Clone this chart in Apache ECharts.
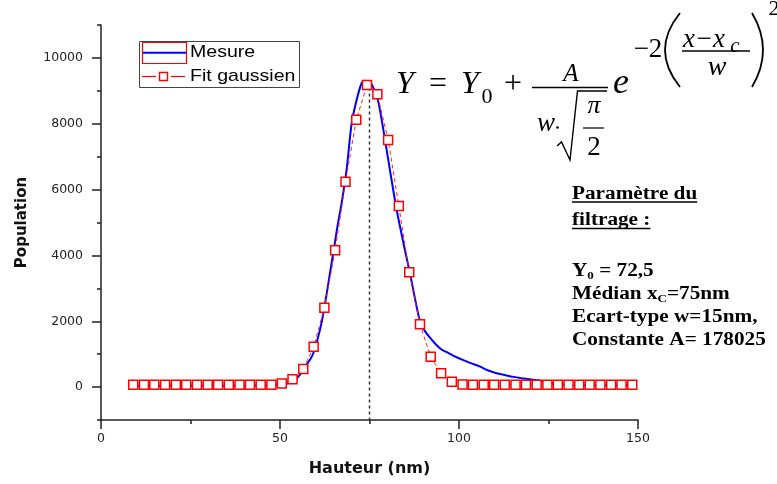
<!DOCTYPE html>
<html><head><meta charset="utf-8">
<script src="https://cdn.jsdelivr.net/npm/echarts@6/dist/echarts.min.js"></script>
<style>html,body{margin:0;padding:0;background:#fff}#c{width:777px;height:484px}</style>
</head><body><div id="c"></div>
<script>
// ---- data ----
const mesureX = [9,15,20,25,30,35,40,45,48,50,52,54,55.6,57,58.5,59.5,60.5,61.6,62.6,63.5,65,66,67.2,68.6,70,71.4,72.8,73.7,74.6,75.6,76.6,77.5,78.9,80.7,82.6,84.9,86.3,87.5,89.1,90.5,91.9,93.5,95,96.6,98.5,101.2,103.5,105.9,108,110.5,113,115.2,117.5,119.8,122.6,124.5,126.5,129,132,140,148.4];
const mesureY = [40,40,40,40,40,40,40,45,55,70,110,200,380,620,850,1080,1450,1950,2550,3150,4160,4850,5580,6600,8000,8720,9230,9310,9290,9200,8950,8650,7800,6600,5380,4160,3460,2800,2000,1700,1500,1300,1150,1060,950,820,720,620,510,420,360,310,270,235,190,150,100,75,60,60,60];
const fitX = [9.0,12.0,14.9,17.9,20.9,23.8,26.8,29.8,32.7,35.7,38.7,41.6,44.6,47.6,50.5,53.5,56.5,59.4,62.4,65.4,68.3,71.3,74.3,77.2,80.2,83.2,86.1,89.1,92.1,95.0,98.0,101.0,103.9,106.9,109.8,112.8,115.8,118.7,121.7,124.7,127.6,130.6,133.6,136.5,139.5,142.5,145.4,148.4];
const fitY = [72,72,72,72,72,72,72,72,72,72,72,72,72,72,110,240,550,1225,2410,4160,6240,8120,9180,8900,7510,5500,3490,1910,920,420,160,80,72,72,72,72,72,72,72,72,72,72,72,72,72,72,72,72];
const xcLineX = [75, 75];
const xcLineY = [9100, -1000];
const yMajorTicks = [0, 2000, 4000, 6000, 8000, 10000];
const seriesNames = ['Mesure', 'Fit gaussien'];
const xName = 'Hauteur (nm)';
const yName = 'Population';
const paramTitle = ['Paramètre du', 'filtrage :'];
const paramY0 = '72,5', paramXc = '75nm', paramW = '15nm', paramA = '178025';

const zip = (a, b) => a.map((v, i) => [v, b[i]]);

// ---- text helpers ----
const mctx = document.createElement('canvas').getContext('2d');
function tw(s, fs, fam, bold, ital) {
  mctx.font = (ital ? 'italic ' : '') + (bold ? 'bold ' : '') + fs + 'px "' + fam + '"';
  return mctx.measureText(s).width;
}
function txt(t, x, base, fs, o) {
  o = o || {};
  return {type: 'text', x: x, y: base - 0.34 * fs, z: 100,
    style: {text: t, fontSize: fs, fontFamily: o.fam || 'Liberation Serif',
      fontWeight: o.bold ? 'bold' : 'normal', fontStyle: o.ital ? 'italic' : 'normal',
      fill: o.color || '#000', textAlign: o.align || 'center', align: o.align || 'center',
      textVerticalAlign: 'middle', verticalAlign: 'middle'}};
}
function ln(x1, y1, x2, y2, w, o) {
  o = o || {};
  return {type: 'line', z: 100, shape: {x1, y1, x2, y2},
    style: {stroke: o.color || '#000', lineWidth: w, lineDash: o.dash || null}};
}
// horizontal run of segments inside a stretched group
function run(parts, x0, base, scale, fam, bold, underline) {
  let cx = 0; const ch = [];
  parts.forEach(p => {
    const fs = p.fs;
    ch.push(txt(p.t, cx, base + (p.dy || 0), fs, {fam, bold, align: 'left', ital: p.ital}));
    cx += tw(p.t, fs, fam, bold, p.ital);
  });
  if (underline) ch.push(ln(0, base + 2, cx, base + 2, 1.3));
  return {type: 'group', x: x0, y: 0, scaleX: scale, children: ch};
}

const SER = 'Liberation Serif';
const graphics = [];
// legend
graphics.push({type: 'rect', z: 90, shape: {x: 139.5, y: 41.5, width: 160, height: 46},
  style: {fill: '#fff', stroke: '#444', lineWidth: 1}});
graphics.push({type: 'rect', z: 100, shape: {x: 142.5, y: 42.5, width: 44, height: 21},
  style: {fill: null, stroke: '#ff0000', lineWidth: 1.2}});
graphics.push(ln(143, 52.7, 186, 52.7, 2, {color: '#0000ff'}));
graphics.push(ln(142, 76.5, 156, 76.5, 1.2, {color: '#ff0000'}));
graphics.push(ln(171, 76.5, 185, 76.5, 1.2, {color: '#ff0000'}));
graphics.push({type: 'rect', z: 100, shape: {x: 159.5, y: 72.5, width: 8, height: 8},
  style: {fill: '#fff', stroke: '#ff0000', lineWidth: 1.4}});
graphics.push(run([{t: seriesNames[0], fs: 17}], 190, 58.5, 1.15, 'Liberation Sans', false));
graphics.push(run([{t: seriesNames[1], fs: 17}], 190, 82.5, 1.15, 'Liberation Sans', false));

// formula
const I = {ital: true};
graphics.push(txt('Y', 405, 95, 32, I));
graphics.push(txt('=', 438, 95, 32));
graphics.push(txt('Y', 470, 95, 32, I));
graphics.push(txt('0', 487, 105, 22));
graphics.push(txt('+', 513, 95, 32));
graphics.push(txt('A', 571, 83, 25, I));
graphics.push(ln(532, 87.5, 608, 87.5, 1.3));
graphics.push(txt('w', 546, 133, 27, I));
graphics.push({type: 'circle', z: 100, shape: {cx: 557.5, cy: 127.5, r: 1.3}, style: {fill: '#000'}});
graphics.push({type: 'polyline', z: 100, shape: {points: [[557, 146], [561.5, 142], [570, 160], [577.5, 91], [607, 91]]},
  style: {stroke: '#000', fill: null, lineWidth: 1.4}});
graphics.push(txt('π', 594, 115, 26, I));
graphics.push(ln(583, 128, 604, 128, 1.2));
graphics.push(txt('2', 594, 157, 27));
graphics.push(txt('e', 621, 96, 36, I));
graphics.push(txt('−2', 648, 59, 27));
graphics.push({type: 'bezierCurve', z: 100, shape: {x1: 680, y1: 13, x2: 680, y2: 87, cpx1: 650, cpy1: 50},
  style: {stroke: '#000', fill: null, lineWidth: 1.8}});
graphics.push({type: 'bezierCurve', z: 100, shape: {x1: 752, y1: 13, x2: 752, y2: 87, cpx1: 774, cpy1: 50},
  style: {stroke: '#000', fill: null, lineWidth: 1.8}});
graphics.push(txt('x', 689, 49, 27, I));
graphics.push(txt('−', 704, 49, 27));
graphics.push(txt('x', 719, 49, 27, I));
graphics.push(txt('c', 735, 54, 21, I));
graphics.push(ln(682, 51, 750, 51, 1.3));
graphics.push(txt('w', 717, 77, 28, I));
graphics.push(txt('2', 774, 17, 22));

// parameter block
const PS = 1.18, PF = 18;
graphics.push(run([{t: paramTitle[0], fs: PF}], 572, 200, PS, SER, true, true));
graphics.push(run([{t: paramTitle[1], fs: PF}], 572, 226.5, PS, SER, true, true));
graphics.push(run([{t: 'Y', fs: PF}, {t: '0', fs: 11, dy: 3}, {t: ' = ' + paramY0, fs: PF}], 572, 277, PS, SER, true));
graphics.push(run([{t: 'Médian x', fs: PF}, {t: 'C', fs: 11, dy: 3}, {t: '=' + paramXc, fs: PF}], 572, 300, PS, SER, true));
graphics.push(run([{t: 'Ecart-type w=' + paramW + ',', fs: PF}], 572, 323, PS, SER, true));
graphics.push(run([{t: 'Constante A= ' + paramA, fs: PF}], 572, 346.5, PS, SER, true));

const axisCol = '#222';
const chart = echarts.init(document.getElementById('c'), null, {renderer: 'canvas'});
chart.setOption({
  animation: false,
  backgroundColor: '#fff',
  grid: {left: 101, right: 139, top: 25, bottom: 64, containLabel: false},
  xAxis: {
    type: 'value', min: 0, max: 150, interval: 50,
    axisLine: {onZero: false, lineStyle: {color: axisCol, width: 1.5}},
    axisTick: {length: 9, lineStyle: {color: axisCol, width: 1.5}},
    minorTick: {show: true, splitNumber: 2, length: 4, lineStyle: {color: axisCol, width: 1.5}},
    axisLabel: {margin: 12, fontFamily: 'DejaVu Sans', fontSize: 12.5, color: '#222'},
    splitLine: {show: false}, minorSplitLine: {show: false},
    name: xName, nameLocation: 'middle', nameGap: 41,
    nameTextStyle: {fontFamily: 'DejaVu Sans', fontWeight: 'bold', fontSize: 16, color: '#111'}
  },
  yAxis: [{
    type: 'value', min: -1000, max: 11000, interval: 1000,
    axisLine: {show: true, onZero: false, lineStyle: {color: axisCol, width: 1.5}},
    axisTick: {show: true, length: 4, lineStyle: {color: axisCol, width: 1.5}},
    axisLabel: {margin: 18, fontFamily: 'DejaVu Sans', fontSize: 12.5, color: '#222',
      formatter: v => (yMajorTicks.indexOf(v) >= 0 ? String(v) : '')},
    splitLine: {show: false},
    name: yName, nameLocation: 'middle', nameGap: 71, nameRotate: 90,
    nameTextStyle: {fontFamily: 'DejaVu Sans', fontWeight: 'bold', fontSize: 15, color: '#111'}
  }, {
    type: 'value', min: -1000, max: 11000, interval: 1000, position: 'left',
    axisLine: {show: false, onZero: false},
    axisTick: {show: true, length: 9, customValues: yMajorTicks, lineStyle: {color: axisCol, width: 1.5}},
    axisLabel: {show: false}, splitLine: {show: false}
  }],
  series: [{
    name: 'xc', type: 'line', data: zip(xcLineX, xcLineY), symbol: 'none', silent: true, z: 1,
    lineStyle: {color: '#333', width: 1.5, type: [3, 3]}
  }, {
    name: seriesNames[0], type: 'line', data: zip(mesureX, mesureY), symbol: 'none', showSymbol: false,
    smooth: 0.25, z: 2, lineStyle: {color: '#0000ff', width: 2}
  }, {
    name: seriesNames[1], type: 'line', data: zip(fitX, fitY), symbol: 'rect', symbolSize: 9, z: 3,
    itemStyle: {color: '#fff', borderColor: '#ff0000', borderWidth: 1.5},
    lineStyle: {color: '#ff2020', width: 1, type: [4, 3]}
  }],
  graphic: {elements: graphics}
});
</script>
</body></html>
